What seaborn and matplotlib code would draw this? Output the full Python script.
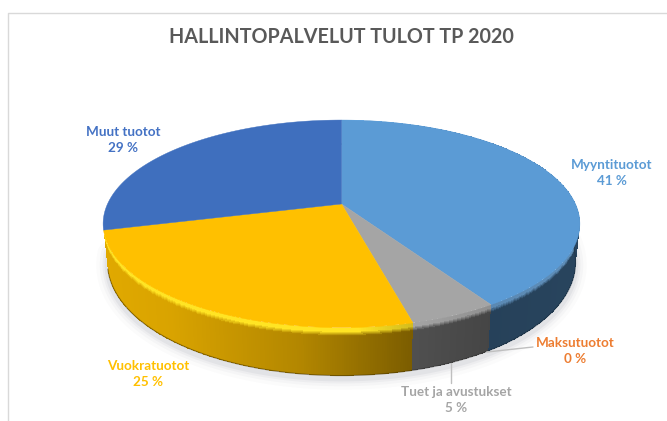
import matplotlib
matplotlib.use("Agg")
import matplotlib.pyplot as plt
import numpy as np
import seaborn as sns

title = "HALLINTOPALVELUT TULOT TP 2020"
categories = ["Myyntituotot", "Maksutuotot", "Tuet ja avustukset", "Vuokratuotot", "Muut tuotot"]
shares = [41, 0, 5, 25, 29]
slice_colors = ["#5B9BD5", "#ED7D31", "#A5A5A5", "#FFC000", "#3F6FBE"]
label_colors = ["#5B9BD5", "#ED7D31", "#A5A5A5", "#FFC000", "#4472C4"]

# label centres in pixels
label_pos = [(612, 165), (575, 343), (456, 392), (148, 366), (123, 132)]
leaders = [((533, 347), (487, 352)), ((451, 383), (451, 363))]

# pie plane seen in perspective, apex of the slices in pixels
CX, CY = 341.5, 204
SX, SY, K = 234, 100, -0.191


def rim(theta, depth=0.0):
    # theta runs clockwise from 12 o'clock, depth 0 is top face, 1 is the bottom edge
    x = np.sin(theta)
    y = -np.cos(theta)
    w = 1 + K * y
    px = CX + SX * x / w * (1 - 0.018 * depth)
    py = CY + SY * y / w
    return px, py + depth * (36 + 12 * y)


def side_shade(px):
    return np.interp(px, [103, 170, 300, 415, 490, 579], [0.88, 0.85, 0.7, 0.48, 0.42, 0.44])


def draw_side(ax, start, stop, color):
    base = np.array(color)
    theta = np.linspace(start, stop, max(int((stop - start) * 120), 2) + 1)
    depth = np.linspace(0, 1, 46)
    T, D = np.meshgrid(theta, depth)
    X, Y = rim(T, D)
    tc = (T[:-1, :-1] + T[1:, 1:]) / 2
    dc = (D[:-1, :-1] + D[1:, 1:]) / 2
    px, _ = rim(tc, 0)
    shade = side_shade(px)[..., None]
    rgb = base * shade
    # soft bevel just under the rim, flat for a few pixels and then fading
    bevel = np.clip((0.17 - dc) / 0.09, 0, 1)[..., None]
    light = np.clip(base + 0.14, 0, 1) * np.clip(shade * 1.7, 0, 1)
    rgb = rgb * (1 - bevel) + light * bevel
    ax.pcolormesh(X, Y, np.clip(rgb, 0, 1), shading="flat", antialiased=False, linewidth=0, zorder=3)
    ex, ey = rim(theta, 1)
    ax.plot(ex, ey, color=base * 0.3, lw=0.8, alpha=0.6, zorder=3.1)


sns.set_theme(style="white")
plt.rcParams["font.family"] = ["Lato", "DejaVu Sans"]
palette = sns.color_palette(slice_colors)

fig = plt.figure(figsize=(6.67, 4.21), dpi=100)
ax = fig.add_axes([0, 0, 1, 1])
ax.set_xlim(0, 667)
ax.set_ylim(421, 0)
ax.axis("off")

# frame of the pasted chart
ax.plot([8, 8, 667], [421, 12.5, 12.5], color="#D9D9D9", lw=1.0, zorder=1)

# soft shadow under the pie
th = np.linspace(np.radians(80), np.radians(265), 200)
sx, sy = rim(th, 1)
for lw, a in zip([16, 11, 7, 4], [0.025, 0.035, 0.05, 0.07]):
    ax.plot(sx, sy + 3, color="#5A6470", lw=lw, alpha=a, solid_capstyle="round", zorder=2)

edges = np.radians(np.cumsum([0] + shares) / sum(shares) * 360)

# sides first, the top faces cover whatever is at the back
# the last slice is the far left one, its side is never seen
for i in range(len(shares) - 1):
    if shares[i] > 0:
        draw_side(ax, edges[i], edges[i + 1], palette[i])

for i in range(len(shares)):
    if shares[i] == 0:
        continue
    theta = np.linspace(edges[i], edges[i + 1], 200)
    x, y = rim(theta)
    ax.fill(np.r_[CX, x], np.r_[CY, y], color=palette[i], lw=0.3, zorder=4)

# dark rim on the far right of the blue slice
theta = np.linspace(edges[0] * 0.12, edges[0] * 0.62, 120)
x, y = rim(theta)
ax.plot(x, y, color="#2F5F8C", lw=1.1, alpha=0.75, zorder=5)

for (a, b) in leaders:
    ax.plot([a[0], b[0]], [a[1], b[1]], color="#BFBFBF", lw=1.0, zorder=5)

for name, val, col, (lx, ly) in zip(categories, shares, label_colors, label_pos):
    ax.text(lx, ly, name, color=col, fontsize=9.7, fontweight="bold", ha="center", va="center", zorder=6)
    ax.text(lx, ly + 16, f"{val} %", color=col, fontsize=9.7, fontweight="bold", ha="center", va="center", zorder=6)

ax.text(341, 37, title, color="#595959", fontsize=14.2, fontweight="bold", ha="center", va="center", zorder=6)

fig.savefig("out.png", dpi=100, facecolor="white")
plt.close(fig)
